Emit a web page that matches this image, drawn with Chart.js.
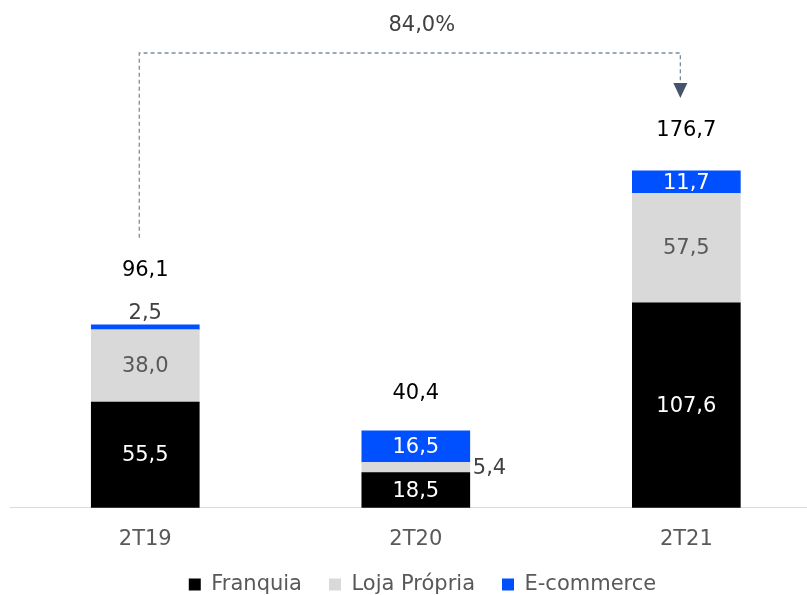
<!DOCTYPE html>
<html>
<head>
<meta charset="utf-8">
<script src="https://cdn.jsdelivr.net/npm/chart.js@4.4.1/dist/chart.umd.min.js"></script>
<style>
  html, body { margin: 0; padding: 0; background: #ffffff; }
  #wrap { width: 807px; height: 595px; position: relative; }
</style>
</head>
<body>
<div id="wrap"><canvas id="c"></canvas></div>
<script>
const categories = ["2T19", "2T20", "2T21"];
const franquia = [55.5, 18.5, 107.6];
const lojaPropria = [38.0, 5.4, 57.5];
const ecommerce = [2.5, 16.5, 11.7];
const totals = [96.1, 40.4, 176.7];
const growthLabel = "84,0%";
const seriesNames = ["Franquia", "Loja Própria", "E-commerce"];

const FONT = "'DejaVu Sans', Verdana, sans-serif";
const FSIZE = 21;
Chart.defaults.font.family = FONT;

const fmt = v => v.toFixed(1).replace('.', ',');
const toPts = arr => arr.map((v, i) => ({ x: i, y: v }));

const labelPlugin = {
  id: 'labels',
  afterDatasetsDraw(chart, args, opts) {
    const ctx = chart.ctx;
    const n = chart.data.datasets.length;
    ctx.save();
    ctx.font = FSIZE + "px " + FONT;
    ctx.textBaseline = 'middle';
    chart.data.datasets.forEach((ds, di) => {
      const meta = chart.getDatasetMeta(di);
      meta.data.forEach((el, i) => {
        const v = ds.data[i].y;
        const h = Math.abs(el.base - el.y);
        const txt = fmt(v);
        if (h >= 18) {
          ctx.textAlign = 'center';
          ctx.fillStyle = opts.inside[di];
          ctx.fillText(txt, el.x, (el.y + el.base) / 2 + 1);
        } else if (di === n - 1) {
          ctx.textAlign = 'center';
          ctx.fillStyle = '#404040';
          ctx.fillText(txt, el.x, el.y - 11);
        } else {
          ctx.textAlign = 'left';
          ctx.fillStyle = '#404040';
          ctx.fillText(txt, el.x + el.width / 2 + 3, (el.y + el.base) / 2 + 1);
        }
      });
    });
    // totals
    const ys = chart.scales.y;
    const xs = chart.scales.x;
    ctx.fillStyle = '#000000';
    ctx.textAlign = 'center';
    const totalY = [];
    totals.forEach((t, i) => {
      const y = ys.getPixelForValue(t) - opts.totalOffset[i];
      totalY.push(y);
      ctx.fillText(fmt(t), xs.getPixelForValue(i), y);
    });
    // growth connector
    const x0 = xs.getPixelForValue(0) - 6;
    const x1 = xs.getPixelForValue(categories.length - 1) - 6;
    const yTop = 53;
    const yStart = totalY[0] - 33;
    const yArrow = totalY[totalY.length - 1] - 32;
    ctx.strokeStyle = '#7d8ca0';
    ctx.lineWidth = 1.3;
    ctx.setLineDash([4, 3]);
    ctx.beginPath();
    ctx.moveTo(x0, yStart);
    ctx.lineTo(x0, yTop);
    ctx.lineTo(x1, yTop);
    ctx.lineTo(x1, yArrow - 14);
    ctx.stroke();
    ctx.setLineDash([]);
    ctx.fillStyle = '#44546a';
    ctx.beginPath();
    ctx.moveTo(x1 - 7, yArrow - 15);
    ctx.lineTo(x1 + 7, yArrow - 15);
    ctx.lineTo(x1, yArrow);
    ctx.closePath();
    ctx.fill();
    ctx.fillStyle = '#404040';
    ctx.textAlign = 'center';
    ctx.fillText(growthLabel, (xs.getPixelForValue(0) + xs.getPixelForValue(categories.length - 1)) / 2 + 6, 26);
    ctx.restore();
  }
};

new Chart(document.getElementById('c'), {
  type: 'bar',
  data: {
    datasets: [
      { label: seriesNames[0], data: toPts(franquia), backgroundColor: '#000000' },
      { label: seriesNames[1], data: toPts(lojaPropria), backgroundColor: '#d9d9d9' },
      { label: seriesNames[2], data: toPts(ecommerce), backgroundColor: '#0050ff' }
    ]
  },
  options: {
    responsive: true,
    maintainAspectRatio: false,
    animation: false,
    barThickness: 108,
    layout: { padding: { left: 10, right: -28, top: 0, bottom: -10 } },
    scales: {
      x: {
        type: 'linear',
        stacked: true,
        offset: false,
        min: -0.5,
        max: 2.446,
        afterBuildTicks: s => { s.ticks = categories.map((c, i) => ({ value: i })); },
        afterFit: s => { s.height -= 24; },
        ticks: {
          callback: v => categories[v],
          color: '#595959',
          font: { size: FSIZE },
          padding: 19,
          maxRotation: 0,
          autoSkip: false
        },
        grid: { display: false, drawTicks: false },
        border: { display: true, color: '#d9d9d9', width: 1 }
      },
      y: {
        stacked: true,
        display: false,
        min: 0,
        max: 266.5
      }
    },
    plugins: {
      legend: {
        position: 'bottom',
        labels: {
          color: '#595959',
          font: { size: FSIZE },
          boxWidth: 12,
          boxHeight: 12,
          padding: 27
        }
      },
      tooltip: { enabled: false },
      labels: {
        inside: ['#ffffff', '#595959', '#ffffff'],
        totalOffset: [54, 37, 41]
      }
    }
  },
  plugins: [labelPlugin]
});
</script>
</body>
</html>
